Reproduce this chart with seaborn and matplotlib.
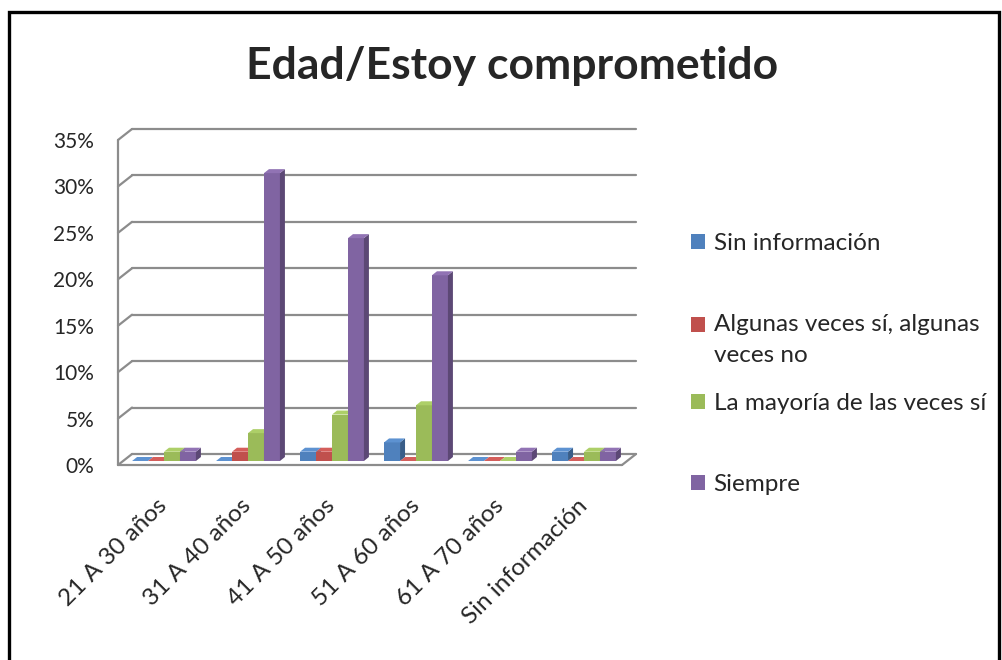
import numpy as np
import pandas as pd
import matplotlib
matplotlib.use("Agg")
import matplotlib.pyplot as plt
import matplotlib.colors as mcolors
from matplotlib.patches import Polygon, Rectangle, Patch
from matplotlib.lines import Line2D
from matplotlib.transforms import IdentityTransform, ScaledTranslation
from matplotlib.legend_handler import HandlerPatch
import seaborn as sns

# ---- data -------------------------------------------------------------
age_groups = ["21 A 30 años", "31 A 40 años", "41 A 50 años",
              "51 A 60 años", "61 A 70 años", "Sin información"]
responses = ["Sin información", "Algunas veces sí, algunas veces no",
             "La mayoría de las veces sí", "Siempre"]
legend_labels = ["Sin información", "Algunas veces sí, algunas\nveces no",
                 "La mayoría de las veces sí", "Siempre"]
sin_informacion = [0, 0, 1, 2, 0, 1]
algunas_veces = [0, 1, 1, 0, 0, 0]
mayoria_veces = [1, 3, 5, 6, 0, 1]
siempre = [1, 31, 24, 20, 1, 1]
y_ticks = [0, 5, 10, 15, 20, 25, 30, 35]
y_tick_labels = ["0%", "5%", "10%", "15%", "20%", "25%", "30%", "35%"]
title = "Edad/Estoy comprometido"

colors = ["#4F81BD", "#C0504D", "#9BBB59", "#8064A2"]

series = [sin_informacion, algunas_veces, mayoria_veces, siempre]
df = pd.DataFrame({
    "Edad": np.repeat([age_groups], len(responses), axis=0).ravel(),
    "Respuesta": np.repeat(responses, len(age_groups)),
    "Porcentaje": np.concatenate(series),
})

sns.set_style("white")
plt.rcParams["font.family"] = ["Lato", "DejaVu Sans"]

W, H, DPI = 1002, 660, 100
fig = plt.figure(figsize=(W / DPI, H / DPI), dpi=DPI)

# plot plane (front faces of the bars), in pixels
left, right, y0, y35 = 122, 626, 461, 136
ax = fig.add_axes([left / W, (H - y0) / H, (right - left) / W, (y0 - y35) / H])

sns.barplot(data=df, x="Edad", y="Porcentaje", hue="Respuesta",
            order=age_groups, hue_order=responses, palette=colors,
            saturation=1, width=0.76, legend=False, ax=ax,
            edgecolor="none", linewidth=0)

ax.set_xlim(-0.5, len(age_groups) - 0.5)
ax.set_ylim(0, 35)
ax.set_xlabel("")
ax.set_ylabel("")
for s in ax.spines.values():
    s.set_visible(False)
ax.grid(False)
ax.patch.set_alpha(0)

# ---- pseudo-3D walls -------------------------------------------------
back = np.array([10, 7])     # offset of back wall (px, display y up)
front = np.array([-4, -4])   # offset of front edge
depth = np.array([5, 4])     # bar depth
grid_c = "#8C8C8C"
grid_lw = 1.6


def px(x, y):
    return np.array(ax.transData.transform((x, y)))


def add_px_line(p, q, z=0.5):
    ln = Line2D([p[0], q[0]], [p[1], q[1]], color=grid_c, lw=grid_lw,
                transform=IdentityTransform(), clip_on=False, zorder=z,
                solid_capstyle="round")
    ax.add_line(ln)


xl, xr = -0.5, len(age_groups) - 0.5
for v in y_ticks:
    pl = px(xl, v)
    pr = px(xr, v)
    add_px_line(pl + front, pl + back)
    add_px_line(pl + back, pr + back)
# left wall edge and floor front
add_px_line(px(xl, 0) + front, px(xl, 35) + front)
add_px_line(px(xl, 0) + front, px(xr, 0) + front)
add_px_line(px(xr, 0) + front, px(xr, 0) + back)

# ---- bar side and top faces -----------------------------------------
bars = sorted([p for p in ax.patches if isinstance(p, Rectangle)],
              key=lambda p: p.get_x())
for k, b in enumerate(bars):
    x, w, h = b.get_x(), b.get_width(), b.get_height()
    base = mcolors.to_rgb(b.get_facecolor())
    side_c = tuple(c * 0.72 for c in base)
    top_c = tuple(min(1, c * 1.05 + 0.04) for c in base)
    z = 2 + k * 0.01
    b.set_zorder(z)
    bl, br, tl, tr = px(x, 0), px(x + w, 0), px(x, h), px(x + w, h)
    side = Polygon([br, tr, tr + depth, br + depth], closed=True,
                   facecolor=side_c, edgecolor="none",
                   transform=IdentityTransform(), clip_on=False, zorder=z + 0.001)
    top = Polygon([tl, tr, tr + depth, tl + depth], closed=True,
                  facecolor=top_c, edgecolor="none",
                  transform=IdentityTransform(), clip_on=False, zorder=z + 0.002)
    ax.add_patch(side)
    ax.add_patch(top)

# ---- ticks -----------------------------------------------------------
ax.set_yticks(y_ticks)
ax.set_yticklabels(y_tick_labels)
ax.tick_params(axis="y", length=0, pad=20, labelsize=15)
shift_down = ScaledTranslation(0, -4 / DPI, fig.dpi_scale_trans)
for t in ax.yaxis.get_major_ticks():
    t.label1.set_transform(t.label1.get_transform() + shift_down)

ax.set_xticks(range(len(age_groups)))
ax.set_xticklabels(age_groups, rotation=45, ha="right",
                   rotation_mode="anchor", fontsize=17.5)
ax.tick_params(axis="x", length=0, pad=30)
for lbl in ax.get_xticklabels():
    lbl.set_va("center")

# ---- title, legend, frame --------------------------------------------
fig.text(512 / W, 1 - 66 / H, title, ha="center", va="center",
         fontsize=32, fontweight="bold")

LEG_FS = 17.5
LINE_PT = 32 * 72 / DPI  # distance between wrapped lines


def first_line_square(legend, orig_handle, xdescent, ydescent,
                      width, height, fontsize):
    # keep the square level with the first line of a wrapped label
    return Rectangle((-xdescent, -ydescent + LINE_PT / 2), width, height)


handles = [Patch(facecolor=c, edgecolor="none") for c in colors]
leg_kw = dict(loc="upper left", frameon=False, fontsize=LEG_FS,
              handlelength=0.58, handleheight=0.58, handletextpad=0.35,
              labelspacing=2.48, borderpad=0, borderaxespad=0)
leg1 = fig.legend(handles[:2], legend_labels[:2],
                  bbox_to_anchor=(691 / W, 1 - 233 / H),
                  handler_map={handles[1]: HandlerPatch(patch_func=first_line_square)},
                  **leg_kw)
leg2 = fig.legend(handles[2:], legend_labels[2:],
                  bbox_to_anchor=(691 / W, 1 - 393 / H), **leg_kw)
for t in leg1.get_texts():
    t.set_linespacing(1.6)

frame = Rectangle((9 / W, -0.05), (999 - 9) / W, 1.05 - 12 / H,
                  transform=fig.transFigure, fill=False,
                  edgecolor="black", lw=2.4, zorder=10)
fig.add_artist(frame)

fig.savefig("out.png", dpi=DPI)
